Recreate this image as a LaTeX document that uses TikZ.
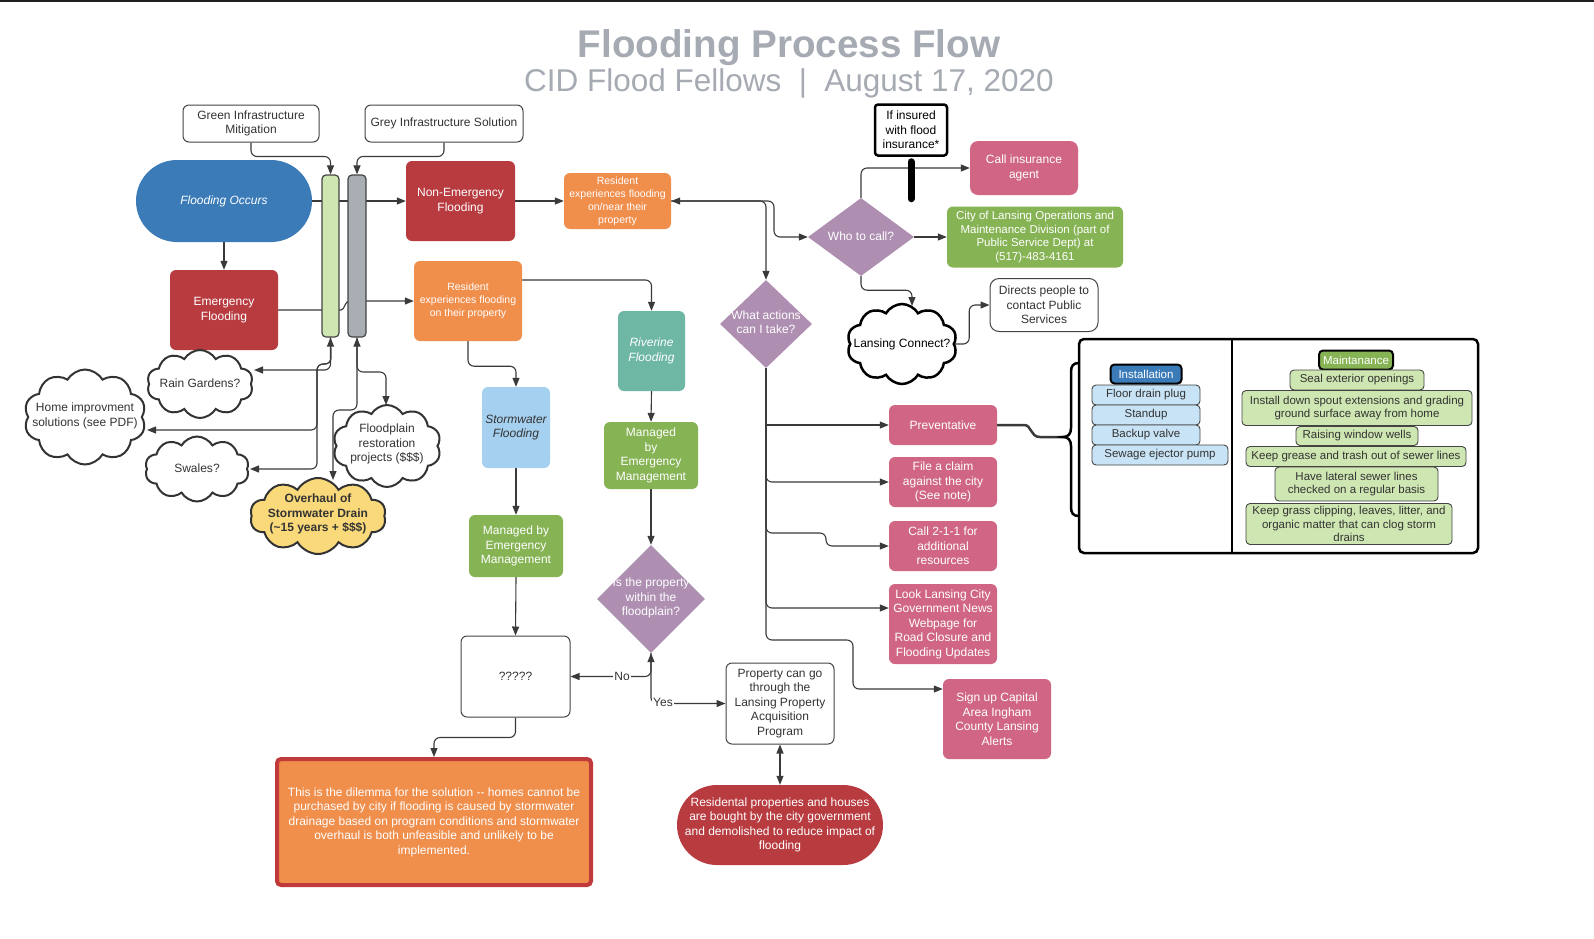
\documentclass[tikz,border=0pt]{standalone}
\usepackage{fontspec}
\setmainfont{Liberation Sans}
\usetikzlibrary{shapes.geometric,shapes.symbols,arrows.meta,calc}
\pgfdeclarelayer{bg}
\pgfdeclarelayer{paper}
\pgfsetlayers{paper,bg,main}
\definecolor{tgrey}{HTML}{A6AAB2}
\definecolor{cblue}{HTML}{3B7BB8}
\definecolor{cred}{HTML}{B83B40}
\definecolor{corange}{HTML}{F08E4C}
\definecolor{cteal}{HTML}{6EB7A4}
\definecolor{clblue}{HTML}{A6D0EF}
\definecolor{cgreen}{HTML}{86B354}
\definecolor{clgreen}{HTML}{CEE6B1}
\definecolor{cpurple}{HTML}{AE8FB2}
\definecolor{cpink}{HTML}{D06684}
\definecolor{cyellow}{HTML}{F9D97A}
\definecolor{cgbar}{HTML}{A9ADB4}
\definecolor{citem}{HTML}{C8E3F6}
\definecolor{txt}{HTML}{333333}
\definecolor{lc}{HTML}{3A3A3A}
\definecolor{bord}{HTML}{444444}
\definecolor{dred}{HTML}{C0393B}
\newcommand\myfs[2]{\fontsize{#1}{#2}\selectfont}
\begin{document}
\begin{tikzpicture}[x=1pt,y=-1pt,
  >={Triangle[length=9pt,width=7pt]},
  lnode/.style={align=center, inner sep=0pt, text=txt, font=\myfs{12}{14.5}},
  sz/.style 2 args={minimum width=#1, minimum height=#2},
  wbox/.style={lnode, rectangle, rounded corners=6pt, draw=bord, line width=1pt, fill=white},
  cbox/.style={lnode, rectangle, rounded corners=6pt, fill=#1, text=white},
  bar/.style={rectangle, rounded corners=4pt, draw=bord, line width=1.2pt, inner sep=0pt},
  dmd/.style={diamond, fill=cpurple, inner sep=0pt},
  cloudst/.style={cloud, cloud puffs=10, cloud puff arc=120, cloud ignores aspect, inner sep=0pt, fill=white, draw=txt, line width=2pt},
  item/.style={lnode, rectangle, rounded corners=4pt, draw=bord, line width=0.9pt, font=\myfs{11.5}{13.5}},
  lbl/.style={lnode, fill=white, inner sep=1pt},
  arr/.style={draw=lc, line width=1.1pt, ->},
  arr2/.style={draw=lc, line width=1.1pt, <->},
  rc/.style={rounded corners=6pt}]
\useasboundingbox (0,0) rectangle (1594,938);
\begin{pgfonlayer}{paper}
\fill[white] (0,0) rectangle (1594,938);
\end{pgfonlayer}
\draw[line width=2.5pt, black!88] (0,1.2) -- (1594,1.2);

% titles
\node[anchor=base, inner sep=0pt, text=tgrey, font=\myfs{38.6}{44}\bfseries] (title) at (789,57) {Flooding Process Flow};
\node[anchor=base, inner sep=0pt, text=tgrey, font=\myfs{31.5}{36}] (subtitle) at (789,91) {CID Flood Fellows\hspace{0.55em}|\hspace{0.55em}August 17, 2020};

% left part
\node[wbox, sz={136}{37}] (ginf) at (251,123.5) {Green Infrastructure\\Mitigation};
\node[wbox, sz={158}{37}] (grinf) at (444,123.5) {Grey Infrastructure Solution};
\node[cbox=cblue, sz={176}{82}, rounded corners=41pt, font=\myfs{12}{14.5}\itshape] (occ) at (224,201) {Flooding Occurs};
\node[bar, fill=clgreen, sz={17}{162}] (gbar) at (330.5,256) {};
\node[bar, fill=cgbar, sz={18}{162}] (gybar) at (357,256) {};
\node[cbox=cred, sz={109}{80}] (nonem) at (460.5,201) {Non-Emergency\\Flooding};
\node[cbox=cred, sz={108}{80}] (emer) at (224,310) {Emergency\\Flooding};
\node[cbox=corange, sz={107}{56}, font=\myfs{10.5}{13}] (ornear) at (617.5,201) {Resident\\experiences flooding\\on/near their\\property};
\node[cbox=corange, sz={108}{80}, font=\myfs{10.5}{13}] (onprop) at (468,301) {Resident\\experiences flooding\\on their property};
\node[cbox=cteal, sz={67}{80}, font=\myfs{12}{14.5}\itshape] (river) at (651.5,351) {Riverine\\Flooding};
\node[cbox=clblue, sz={68}{81}, text=txt, font=\myfs{12}{14.5}\itshape] (storm) at (516,427.5) {Stormwater\\Flooding};
\node[cbox=cgreen, sz={94}{62}] (manL) at (516,546) {Managed by\\Emergency\\Management};
\node[cbox=cgreen, sz={94}{67}] (manR) at (651,455.5) {Managed\\by\\Emergency\\Management};
\node[dmd, sz={108}{108}] (dia) at (651,599) {};
\node[lnode, text=white] (diat) at (651,598) {Is the property\\within the\\floodplain?};
\node[wbox, sz={109}{81}] (qq) at (515.5,676.5) {?????};
\node[wbox, sz={108}{81}] (prop) at (780,703.5) {Property can go\\through the\\Lansing Property\\Acquisition\\Program};
\node[cbox=cred, sz={206}{80}, rounded corners=40pt] (resid) at (780,825) {Residental properties and houses\\are bought by the city government\\and demolished to reduce impact of\\flooding};
\node[cbox=corange, draw=dred, line width=4pt, rounded corners=4pt, sz={314}{126}] (dilem) at (434,822) {This is the dilemma for the solution -{}- homes cannot be\\purchased by city if flooding is caused by stormwater\\drainage based on program conditions and stormwater\\overhaul is both unfeasible and unlikely to be\\implemented.};

% clouds left
\node[cloudst, sz={106}{68}] (rain) at (200,384) {};
\node[lnode] (raint) at (200,383) {Rain Gardens?};
\node[cloudst, sz={122}{95}] (home) at (85,417) {};
\node[lnode] (homet) at (85,416) {Home improvment\\solutions (see PDF)};
\node[cloudst, sz={104}{65}] (swale) at (197,469) {};
\node[lnode] (swalet) at (197,468) {Swales?};
\node[cloudst, sz={108}{82}] (flood) at (387,446) {};
\node[lnode] (floodt) at (387,444) {Floodplain\\restoration\\projects (\$\$\$)};
\node[cloudst, fill=cyellow, sz={136}{76}] (over) at (318,516) {};
\node[lnode, font=\myfs{12}{14.5}\bfseries] (overt) at (318,514) {Overhaul of\\Stormwater Drain\\(\textasciitilde15 years + \$\$\$)};

% middle / right
\node[dmd, sz={92}{88}] (what) at (766,324) {};
\node[lnode, text=white] (whatt) at (766,322) {What actions\\can I take?};
\node[dmd, sz={106}{78}] (who) at (861,237) {};
\node[lnode, text=white] (whot) at (861,236) {Who to call?};
\node[wbox, draw=black, line width=2.5pt, rounded corners=3pt, sz={72}{51}, text=black] (sign) at (911,130) {If insured\\with flood\\insurance*};
\draw[line width=7pt, line cap=round] ($(sign.south)+(0,5)$) -- ($(sign.south)+(0,42)$);
\node[cbox=cpink, sz={108}{54}, rounded corners=8pt] (callins) at (1024,168) {Call insurance\\agent};
\node[cbox=cgreen, sz={176}{61}, font=\myfs{11.5}{13.8}] (city) at (1035,237) {City of Lansing Operations and\\Maintenance Division (part of\\Public Service Dept) at\\(517)-483-4161};
\node[cloudst, draw=black, line width=2.5pt, sz={110}{80}] (lconn) at (902,344) {};
\node[lnode, text=black] (lconnt) at (902,344) {Lansing Connect?};
\node[wbox, sz={108}{53}, rounded corners=9pt] (direct) at (1044,305) {Directs people to\\contact Public\\Services};
\node[cbox=cpink, sz={108}{40}] (prev) at (943,425) {Preventative};
\node[cbox=cpink, sz={108}{50}] (claim) at (943,482) {File a claim\\against the city\\(See note)};
\node[cbox=cpink, sz={108}{50}] (c211) at (943,546) {Call 2-1-1 for\\additional\\resources};
\node[cbox=cpink, sz={108}{80}] (look) at (943,624) {Look Lansing City\\Government News\\Webpage for\\Road Closure and\\Flooding Updates};
\node[cbox=cpink, sz={108}{80}] (signup) at (997,719) {Sign up Capital\\Area Ingham\\County Lansing\\Alerts};

% right panel
\node[rectangle, rounded corners=5pt, draw=black, line width=2.5pt, sz={399}{214}, inner sep=0pt] (panel) at (1278.5,446) {};
\draw[line width=2.5pt] ($(panel.north west)+(154,0)$) -- ($(panel.south west)+(154,0)$);
\draw[line width=2.5pt] (1079,363) .. controls (1073,363) and (1071,366) .. (1071,372) -- (1071,428) .. controls (1071,434) and (1068,437) .. (1063,437) .. controls (1068,437) and (1071,440) .. (1071,446) -- (1071,507) .. controls (1071,513) and (1073,516) .. (1079,516);
\coordinate (btip) at (1063,437);
\node[item, fill=cblue, text=white, draw=black, line width=2pt, sz={71}{19}] (inst) at (1146,374) {Installation};
\node[item, fill=citem, sz={108}{20}] (i1) at (1146,395) {Floor drain plug};
\node[item, fill=citem, sz={108}{20}] (i2) at (1146,415) {Standup};
\node[item, fill=citem, sz={108}{20}] (i3) at (1146,435) {Backup valve};
\node[item, fill=citem, sz={136}{20}] (i4) at (1160,455) {Sewage ejector pump};
\node[item, fill=cgreen, text=white, draw=black, line width=2pt, sz={74}{19}] (maint) at (1356,360) {Maintanance};
\node[item, fill=clgreen, sz={134}{20}] (m1) at (1357,380) {Seal exterior openings};
\node[item, fill=clgreen, sz={230}{35}] (m2) at (1357,408) {Install down spout extensions and grading\\ground surface away from home};
\node[item, fill=clgreen, sz={122}{19}] (m3) at (1357,436) {Raising window wells};
\node[item, fill=clgreen, sz={220}{20}] (m4) at (1356,456.5) {Keep grease and trash out of sewer lines};
\node[item, fill=clgreen, sz={163}{34}] (m5) at (1356.5,484) {Have lateral sewer lines\\checked on a regular basis};
\node[item, fill=clgreen, sz={206}{41}] (m6) at (1349,524) {Keep grass clipping, leaves, litter, and\\organic matter that can clog storm\\drains};

% labels
\node[lbl] (nolbl) at (622,676) {No};
\node[lbl] (yeslbl) at (663,702) {Yes};

\coordinate (rainT) at (254,370);
\coordinate (homeT) at (147,430);
\coordinate (swaleT) at (250,469);
\coordinate (floodT) at (386,405);
\coordinate (overT) at (333,480);
\coordinate (lcT) at (912,306);

\begin{pgfonlayer}{bg}
\draw[arr] (occ.east) -- (nonem.west);
\draw[arr] (occ.south) -- (emer.north);
\draw[arr] (emer.east) -- (341,310) .. controls (345,310) and (344,301) .. (350,301) -- (onprop.west);
\draw[arr, rc] (ginf.south) -- ++(0,14) -| (gbar.north);
\draw[arr, rc] (grinf.south) -- ++(0,14) -| (gybar.north);
\draw[arr] (nonem.east) -- (ornear.west);
\draw[arr2, rc] (ornear.east) -- (774,201) -- (774,237) -- (who.west);
\draw[arr, rc] (ornear.east) -| (what.north);
\draw[arr, rc] ($(onprop.east)+(0,-21)$) -| (river.north);
\draw[arr, rc] (onprop.south) -- ++(0,25) -| (storm.north);
\draw[arr] (river.south) -- (manR.north);
\draw[arr] (manR.south) -- (dia.north);
\draw[arr] (storm.south) -- (manL.north);
\draw[arr] (manL.south) -- (qq.north);
\draw[arr2, rc] (dia.south) |- (qq.east);
\draw[arr, rc] (dia.south) |- (prop.west);
\draw[arr, rc] (qq.south) -- ++(0,20) -| (dilem.north);
\draw[arr2] (prop.south) -- (resid.north);
\draw[arr, rc] (who.north) |- (callins.west);
\draw[arr] (who.east) -- (city.west);
\draw[arr, rc] (who.south) -- ++(0,14) -| (lcT);
\draw[arr, rc] (lconn.east) -- ++(14,0) |- (direct.west);
\draw[arr] (what.south) |- (prev.west);
\draw[arr, rc] (what.south) |- (claim.west);
\draw[arr, rc] (what.south) |- (826,533) |- (c211.west);
\draw[arr, rc] (what.south) |- ($(look.west)+(0,-16)$);
\draw[arr, rc] (what.south) |- (853,640) |- ($(signup.west)+(0,-30)$);
\draw[draw=lc, line width=2.5pt] (prev.east) -- (1024,425) .. controls (1032,425) and (1030,437) .. (1040,437) -- (btip);
\draw[arr2, rc] (gbar.south) |- (rainT);
\draw[arr, rc] (gbar.south) -- (331,364) -- (317,364) |- (homeT);
\draw[arr, rc] (gbar.south) -- (331,364) -- (317,364) |- (swaleT);
\draw[arr2, rc] (gybar.south) |- (386,372) -- (floodT);
\draw[arr, rc] (gybar.south) -- (357,410) -- (333,410) -- (overT);
\end{pgfonlayer}
\end{tikzpicture}
\end{document}
